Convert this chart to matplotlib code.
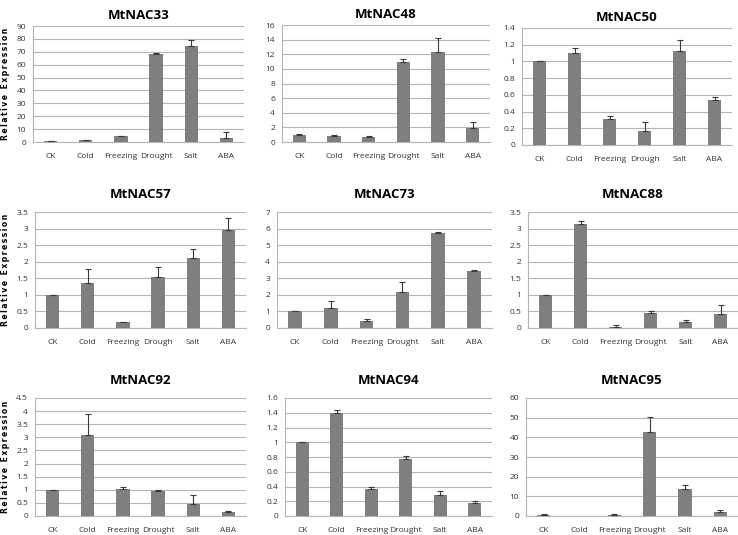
import numpy as np
import matplotlib
matplotlib.use("Agg")
import matplotlib.pyplot as plt
from matplotlib.ticker import FuncFormatter

plt.rcParams['font.family'] = ['Open Sans', 'DejaVu Sans']

# treatments (one panel has "Drough" truncated, as in the original)
cats = ["CK", "Cold", "Freezing", "Drought", "Salt", "ABA"]
cats_short = ["CK", "Cold", "Freezing", "Drough", "Salt", "ABA"]

# gene names
genes = ["MtNAC33", "MtNAC48", "MtNAC50",
         "MtNAC57", "MtNAC73", "MtNAC88",
         "MtNAC92", "MtNAC94", "MtNAC95"]

# mean relative expression
nac33 = [0.8, 1.5, 4.5, 68.0, 74.5, 3.2]
nac48 = [1.0, 0.8, 0.7, 11.0, 12.3, 1.9]
nac50 = [1.0, 1.1, 0.31, 0.17, 1.13, 0.54]
nac57 = [1.0, 1.37, 0.17, 1.55, 2.1, 2.95]
nac73 = [1.0, 1.2, 0.42, 2.2, 5.72, 3.45]
nac88 = [1.0, 3.13, 0.04, 0.45, 0.17, 0.41]
nac92 = [1.0, 3.1, 1.04, 0.95, 0.47, 0.17]
nac94 = [1.0, 1.4, 0.36, 0.77, 0.28, 0.18]
nac95 = [0.6, 0.0, 0.6, 42.5, 13.5, 1.8]

# upper error bars (standard error)
err33 = [0.2, 0.3, 0.5, 1.3, 4.5, 4.6]
err48 = [0.05, 0.1, 0.1, 0.4, 1.9, 0.9]
err50 = [0.005, 0.06, 0.04, 0.1, 0.13, 0.04]
err57 = [0.01, 0.4, 0.02, 0.3, 0.28, 0.37]
err73 = [0.02, 0.42, 0.14, 0.6, 0.06, 0.03]
err88 = [0.005, 0.1, 0.04, 0.05, 0.07, 0.27]
err92 = [0.01, 0.78, 0.05, 0.06, 0.33, 0.03]
err94 = [0.005, 0.04, 0.03, 0.05, 0.06, 0.03]
err95 = [0.2, 0.0, 0.5, 8.0, 2.3, 1.5]

values = [nac33, nac48, nac50, nac57, nac73, nac88, nac92, nac94, nac95]
errors = [err33, err48, err50, err57, err73, err88, err92, err94, err95]
labels = [cats, cats, cats_short, cats_short, cats, cats, cats, cats, cats]

# y axis max and tick step per panel
ymax = [90, 16, 1.4, 3.5, 7, 3.5, 4.5, 1.6, 60]
ystep = [10, 2, 0.2, 0.5, 1, 0.5, 0.5, 0.2, 10]

# axes boxes in pixels: left, right, top, bottom
W, H = 738, 535
boxes = [(33, 244, 26, 142), (282, 490, 25, 142), (522, 732, 28, 145),
         (35, 246, 212, 328), (277, 492, 212, 328), (528, 738, 212, 328),
         (35, 246, 398, 516), (285, 492, 398, 516), (526, 738, 398, 516)]
title_pad = [5, 5, 5, 10, 10, 10, 10, 10, 10]

bar_col = '#7f7f7f'
grid_col = '#b4b4b4'
ylab = "\u2009".join("Relative Expression")


def excel_fmt(v, pos):
    s = f"{v:.1f}".rstrip('0').rstrip('.')
    return s


fig = plt.figure(figsize=(W / 100, H / 100), dpi=100)

for i in range(9):
    l, r, t, b = boxes[i]
    ax = fig.add_axes([l / W, 1 - b / H, (r - l) / W, (b - t) / H])
    x = np.arange(len(cats))
    v = np.array(values[i])
    e = np.array(errors[i])
    ax.bar(x, v, width=0.38, color=bar_col, zorder=3)
    # no error bar where nothing was measured
    m = v > 0
    ax.errorbar(x[m], v[m], yerr=[np.zeros(m.sum()), e[m]], fmt='none',
                ecolor='#3a3a3a', elinewidth=0.8, capsize=2, capthick=0.8,
                zorder=4)

    ax.set_xlim(-0.5, 5.5)
    ax.set_ylim(0, ymax[i])
    ax.set_yticks(np.arange(0, ymax[i] + ystep[i] / 2, ystep[i]))
    ax.yaxis.set_major_formatter(FuncFormatter(excel_fmt))
    ax.set_xticks(x)
    ax.set_xticklabels(labels[i])

    ax.grid(axis='y', color=grid_col, linewidth=0.8, zorder=0)
    for s in ['top', 'right']:
        ax.spines[s].set_visible(False)
    ax.spines['left'].set_color(grid_col)
    ax.spines['bottom'].set_color(grid_col)
    ax.tick_params(axis='both', length=0, labelsize=6, colors='#333333')
    ax.tick_params(axis='x', pad=8)
    ax.tick_params(axis='y', pad=5)

    ax.set_title(genes[i], fontsize=9.5, fontweight='bold', pad=title_pad[i])

    if i % 3 == 0:
        fig.text(6 / W, 1 - (t + b) / 2 / H, ylab, rotation=90,
                 ha='center', va='center', fontsize=5.5, fontweight='bold',
                 family='DejaVu Sans')

plt.savefig("out.png", dpi=100)
